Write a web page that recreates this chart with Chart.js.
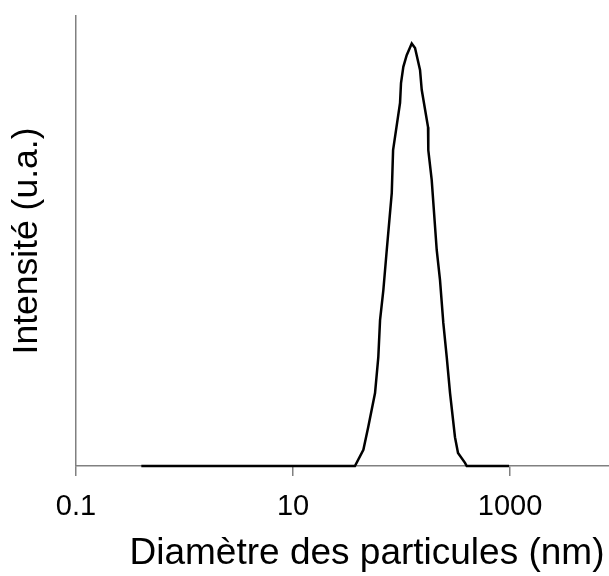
<!DOCTYPE html>
<html>
<head>
<meta charset="utf-8">
<script src="https://cdn.jsdelivr.net/npm/chart.js@4"></script>
<style>
  html, body { margin: 0; padding: 0; background: #fff; overflow: hidden; width: 609px; height: 576px; }
  #wrap { width: 700px; height: 576px; }
</style>
</head>
<body>
<div id="wrap"><canvas id="c" width="700" height="576"></canvas></div>
<script>
// Particle diameter (nm) and intensity (a.u.)
const diameters = [0.4, 1, 5, 20, 37.2, 44.5, 49.4, 57.0, 61.1, 63.4, 68.0, 73.1, 81.3, 83.6, 96.9, 98.9, 103.9, 111.6, 124.2, 133.2, 148.1, 153.5, 175.5, 176.5, 189.7, 211, 226.3, 242.7, 261, 280, 311, 331.6, 384.6, 399, 600, 980];
const intensities = [0, 0, 0, 0, 0, 3.6, 8.7, 16.2, 24.2, 32.4, 39.1, 48, 60.7, 70.2, 80.7, 85.1, 88.7, 91.3, 93.9, 92.9, 88, 83.6, 75.3, 70.2, 63.6, 48, 41.3, 31.8, 24.2, 16.2, 6.4, 2.9, 0.7, 0, 0, 0];
const xTickValues = [0.1, 10, 1000];
const xTickLabels = ['0.1', '10', '1000'];
const xTitle = 'Diamètre des particules (nm)';
const yTitle = 'Intensité (u.a.)';
const xMin = 0.1, xMax = 23100;
const yMin = 0, yMax = 100;

const points = diameters.map((d, i) => ({ x: d, y: intensities[i] }));
const FONT = "'Liberation Sans', Arial, sans-serif";
const AXIS = '#808080';

new Chart(document.getElementById('c'), {
  type: 'line',
  data: {
    datasets: [{
      data: points,
      borderColor: '#000',
      borderWidth: 2.5,
      pointRadius: 0,
      tension: 0,
      fill: false,
      clip: false
    }]
  },
  options: {
    responsive: false,
    animation: false,
    events: [],
    layout: { padding: { left: 0, top: 16, right: 42, bottom: 0 } },
    plugins: { legend: { display: false }, tooltip: { enabled: false } },
    scales: {
      x: {
        type: 'logarithmic',
        min: xMin,
        max: xMax,
        afterBuildTicks: (s) => { s.ticks = xTickValues.map(v => ({ value: v })); },
        afterFit: (s) => { s.height = 110; },
        ticks: {
          autoSkip: false,
          maxRotation: 0,
          padding: 14,
          color: '#000',
          font: { family: FONT, size: 29 },
          callback: (v) => { const i = xTickValues.indexOf(v); return i >= 0 ? xTickLabels[i] : ''; }
        },
        grid: { display: true, drawOnChartArea: false, drawTicks: true, tickLength: 10, color: AXIS, lineWidth: 1.5 },
        border: { display: true, color: AXIS, width: 1.5 },
        title: {
          display: true,
          text: xTitle,
          color: '#000',
          font: { family: FONT, size: 37 },
          padding: { top: 0, bottom: 0 }
        }
      },
      y: {
        min: yMin,
        max: yMax,
        afterFit: (s) => { s.width = 76; },
        ticks: { display: false },
        grid: { display: true, drawOnChartArea: false, drawTicks: false, color: AXIS, lineWidth: 1.5 },
        border: { display: true, color: AXIS, width: 1.5 },
        title: {
          display: true,
          text: yTitle,
          color: '#000',
          font: { family: FONT, size: 35.5 },
          padding: { top: 6, bottom: 0 }
        }
      }
    }
  }
});
</script>
</body>
</html>
